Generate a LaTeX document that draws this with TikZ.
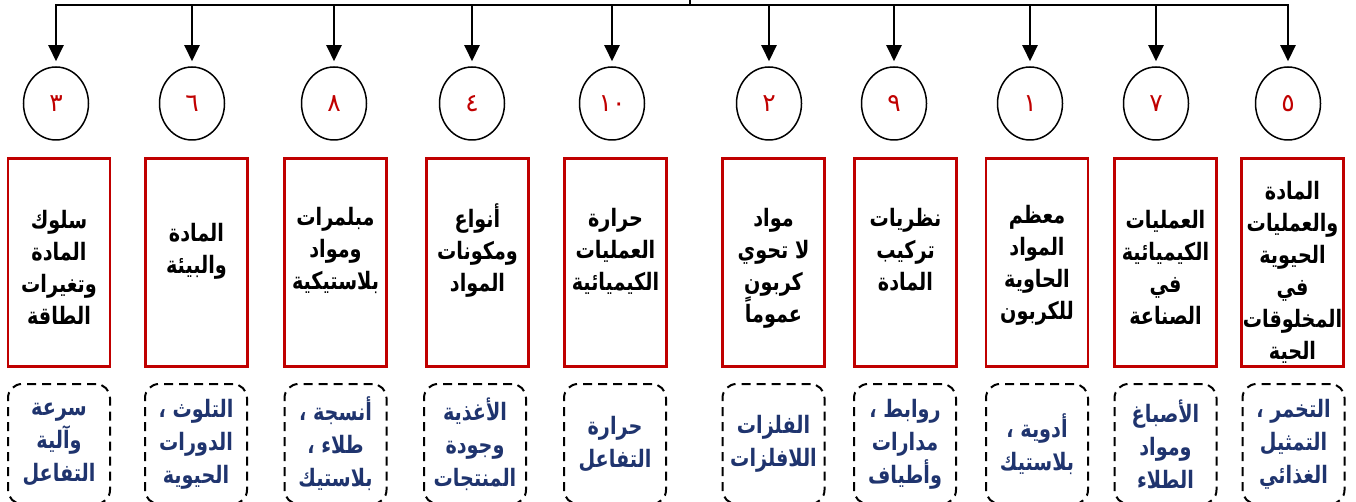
\documentclass[tikz,border=0pt]{standalone}
\usepackage{fontspec}
\usepackage{tikz}
\usetikzlibrary{positioning,shapes.geometric,arrows.meta}
\TeXXeTstate=1
\newfontfamily\arabicfont[Script=Arabic, FakeStretch=0.8]{DejaVu Sans}
\newfontfamily\digitfont[Script=Arabic]{DejaVu Sans}
\newcommand{\arline}[1]{\beginR #1\endR}
\definecolor{boxred}{RGB}{192,0,0}
\definecolor{textblue}{RGB}{31,52,110}

\begin{document}
\begin{tikzpicture}[x=1pt, y=-1pt,
  number/.style={shape=ellipse, draw=black, line width=1.5pt, minimum width=65pt, minimum height=73pt, inner sep=0pt, text=boxred, font=\digitfont\fontsize{25}{28}\selectfont},
  topic/.style={draw=boxred, line width=2.5pt, minimum width=102pt, minimum height=208pt, inner sep=0pt},
  topictext/.style={align=center, font=\arabicfont\bfseries\fontsize{24}{32}\selectfont},
  example/.style={draw=black, dash pattern=on 9pt off 6pt, line width=2pt, rounded corners=14pt, minimum width=102pt, minimum height=120pt, inner sep=0pt, align=center, text=textblue, font=\arabicfont\bfseries\fontsize{24}{33}\selectfont},
  arrow/.style={-{Triangle[width=15pt,length=16pt]}, line width=2pt, shorten >=5pt}]
\useasboundingbox (0,0) rectangle (1356,502);

% top bus
\coordinate (root) at (690,-10);
\coordinate (bmid) at (690,5);
\coordinate (b1) at (56,5);
\coordinate (b2) at (192,5);
\coordinate (b3) at (334,5);
\coordinate (b4) at (472,5);
\coordinate (b5) at (612,5);
\coordinate (b6) at (769,5);
\coordinate (b7) at (894,5);
\coordinate (b8) at (1030,5);
\coordinate (b9) at (1156,5);
\coordinate (b10) at (1288,5);
\draw[line width=2pt, line cap=rect] (b1) -- (b10);
\draw[line width=2pt] (root) -- (bmid);

% numbers
\node[number] (n1) at (56,103.5) {٣};
\node[number] (n2) at (192,103.5) {٦};
\node[number] (n3) at (334,103.5) {٨};
\node[number] (n4) at (472,103.5) {٤};
\node[number] (n5) at (612,103.5) {١٠};
\node[number] (n6) at (769,103.5) {٢};
\node[number] (n7) at (894,103.5) {٩};
\node[number] (n8) at (1030,103.5) {١};
\node[number] (n9) at (1156,103.5) {٧};
\node[number] (n10) at (1288,103.5) {٥};

\path (b1) edge[arrow] (n1) (b2) edge[arrow] (n2) (b3) edge[arrow] (n3) (b4) edge[arrow] (n4) (b5) edge[arrow] (n5);
\path (b6) edge[arrow] (n6) (b7) edge[arrow] (n7) (b8) edge[arrow] (n8) (b9) edge[arrow] (n9) (b10) edge[arrow] (n10);

% topics
\node[topic] (t1) at (59,262.5) {};
\node[topic] (t2) at (196.5,262.5) {};
\node[topic] (t3) at (335.5,262.5) {};
\node[topic] (t4) at (477.5,262.5) {};
\node[topic] (t5) at (615.5,262.5) {};
\node[topic] (t6) at (773.5,262.5) {};
\node[topic] (t7) at (905.5,262.5) {};
\node[topic] (t8) at (1037,262.5) {};
\node[topic] (t9) at (1165.5,262.5) {};
\node[topic] (t10) at (1292.5,262.5) {};

\node[topictext] (tt1) at (59,267) {\arline{سلوك}\\\arline{المادة}\\\arline{وتغيرات}\\\arline{الطاقة}};
\node[topictext] (tt2) at (196.5,251) {\arline{المادة}\\\arline{والبيئة}};
\node[topictext] (tt3) at (335.5,250) {\arline{مبلمرات}\\\arline{ومواد}\\\arline{بلاستيكية}};
\node[topictext] (tt4) at (477.5,251) {\arline{أنواع}\\\arline{ومكونات}\\\arline{المواد}};
\node[topictext] (tt5) at (615.5,251) {\arline{حرارة}\\\arline{العمليات}\\\arline{الكيميائية}};
\node[topictext] (tt6) at (773.5,268) {\arline{مواد}\\\arline{لا تحوي}\\\arline{كربون}\\\arline{عموماً}};
\node[topictext] (tt7) at (905.5,250) {\arline{نظريات}\\\arline{تركيب}\\\arline{المادة}};
\node[topictext] (tt8) at (1037,265) {\arline{معظم}\\\arline{المواد}\\\arline{الحاوية}\\\arline{للكربون}};
\node[topictext] (tt9) at (1165.5,267) {\arline{العمليات}\\\arline{الكيميائية}\\\arline{في}\\\arline{الصناعة}};
\node[topictext] (tt10) at (1292.5,272) {\arline{المادة}\\\arline{والعمليات}\\\arline{الحيوية}\\\arline{في}\\\arline{المخلوقات}\\\arline{الحية}};

% examples
\node[example] (e1) at (59,444) {\arline{سرعة}\\\arline{وآلية}\\\arline{التفاعل}};
\node[example] (e2) at (196,444) {\arline{التلوث ،}\\\arline{الدورات}\\\arline{الحيوية}};
\node[example] (e3) at (335.5,444) {\arline{أنسجة ،}\\\arline{طلاء ،}\\\arline{بلاستيك}};
\node[example] (e4) at (475,444) {\arline{الأغذية}\\\arline{وجودة}\\\arline{المنتجات}};
\node[example] (e5) at (615,444) {\arline{حرارة}\\\arline{التفاعل}};
\node[example] (e6) at (773.5,444) {\arline{الفلزات}\\\arline{اللافلزات}};
\node[example] (e7) at (905,444) {\arline{روابط ،}\\\arline{مدارات}\\\arline{وأطياف}};
\node[example] (e8) at (1037,444) {\arline{أدوية ،}\\\arline{بلاستيك}};
\node[example] (e9) at (1165.5,444) {\arline{الأصباغ}\\\arline{ومواد}\\\arline{الطلاء}};
\node[example] (e10) at (1293.5,444) {\arline{التخمر ،}\\\arline{التمثيل}\\\arline{الغذائي}};
\end{tikzpicture}
\end{document}
